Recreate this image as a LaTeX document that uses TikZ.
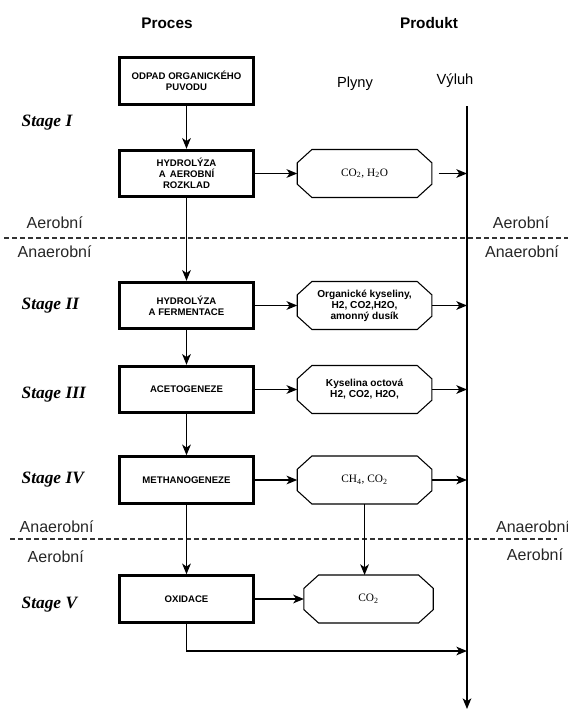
\documentclass[tikz,border=0pt]{standalone}
\usepackage{fontspec}
\setmainfont{Liberation Sans}
\newfontfamily\gasserif{Liberation Serif}
\usetikzlibrary{arrows.meta,positioning}
% octagonal outline round a product node
\newcommand\octa[1]{%
  \draw[line width=0.8pt] ([xshift=11pt]#1.north west) -- ([xshift=-11pt]#1.north east)
    -- ([yshift=-10pt]#1.north east) -- ([yshift=10pt]#1.south east)
    -- ([xshift=-11pt]#1.south east) -- ([xshift=11pt]#1.south west)
    -- ([yshift=10pt]#1.south west) -- ([yshift=-10pt]#1.north west) -- cycle;}

\begin{document}
\begin{tikzpicture}[x=0.75pt,y=-0.75pt,
  proc/.style={draw,line width=2.1pt,minimum width=100pt,minimum height=35pt,inner sep=1pt,align=center,
    font=\fontsize{7.2}{8.2}\selectfont\bfseries},
  gas/.style={minimum width=101pt,minimum height=36pt,inner sep=0pt,outer sep=0pt,align=center,
    font=\fontsize{7.6}{8.3}\selectfont\bfseries},
  gasgas/.style={gas,font=\fontsize{8.5}{9}\selectfont\gasserif},
  stage/.style={anchor=west,font=\fontsize{13}{15}\selectfont\gasserif\bfseries\itshape},
  head/.style={font=\fontsize{11.5}{13}\selectfont\bfseries},
  col/.style={font=\fontsize{11}{13}\selectfont},
  zone/.style={text=black!85,font=\fontsize{12}{14}\selectfont},
  border/.style={black!80,line width=0.9pt,dash pattern=on 3.8pt off 2.2pt},
  arrow/.style={-{Stealth[length=8pt,width=6.5pt,inset=2.2pt]},line width=1pt}]
\useasboundingbox (0,0) rectangle (568,711);
% column heads
\node[head] (proces) at (167,23) {Proces};
\node[head] (produkt) at (429,23) {Produkt};
\node[col] (plyny) at (355,84) {Plyny};
\node[col] (vyluh) at (455,81) {Výluh};
% process chain
\node[proc] (b1) at (186.5,81) {ODPAD ORGANICKÉHO\\PUVODU};
\node[proc] (b2) at (186.5,173.5) {HYDROLÝZA\\A\, AEROBNÍ\\ROZKLAD};
\node[proc] (b3) at (186.5,305.5) {HYDROLÝZA\\A FERMENTACE};
\node[proc] (b4) at (186.5,389.5) {ACETOGENEZE};
\node[proc] (b5) at (186.5,480) {METHANOGENEZE};
\node[proc] (b6) at (186.5,599) {OXIDACE};
% products
\node[gasgas,right=32pt of b2] (o1) {CO\textsubscript{2}, H\textsubscript{2}O};
\node[gas,right=32pt of b3] (o2) {Organické kyseliny,\\H2, CO2,H2O,\\amonný dusík};
\node[gas,right=32pt of b4] (o3) {Kyselina octová\\H2, CO2, H2O,};
\node[gasgas,right=32pt of b5] (o4) {CH\textsubscript{4}, CO\textsubscript{2}};
\node[gasgas,right=37pt of b6,minimum width=97pt] (o5) {CO\textsubscript{2}};
\octa{o1} \octa{o2} \octa{o3} \octa{o4} \octa{o5}
% stages
\node[stage] (s1) at (17,123) {Stage I};
\node[stage] (s2) at (17,306) {Stage II};
\node[stage] (s3) at (17,395) {Stage III};
\node[stage] (s4) at (17,480) {Stage IV};
\node[stage] (s5) at (17,605) {Stage V};
% zone borders
\coordinate (d1l) at (4,238); \coordinate (d1r) at (568,238);
\coordinate (d2l) at (10,539); \coordinate (d2r) at (557,539);
\draw[border] (d1l) -- (d1r);
\draw[border] (d2l) -- (d2r);
\node[zone,anchor=west] (z1) at (22,223) {Aerobní};
\node[zone,anchor=west] (z2) at (13,252) {Anaerobní};
\node[zone] (z3) at (521,223) {Aerobní};
\node[zone] (z4) at (522,252) {Anaerobní};
\node[zone,anchor=west] (z5) at (15,527) {Anaerobní};
\node[zone,anchor=west] (z6) at (23,557) {Aerobní};
\node[zone] (z7) at (533,527) {Anaerobní};
\node[zone] (z8) at (535,555) {Aerobní};
% leachate line
\coordinate (vtop) at (467,106);
\coordinate (vbot) at (467,709);
\coordinate (vend) at (467,651);
\draw[arrow,line width=1.1pt] (vtop) -- (vbot);
% connectors
\draw[arrow] (b1) -- (b2); \draw[arrow] (b2) -- (b3); \draw[arrow] (b3) -- (b4);
\draw[arrow] (b4) -- (b5); \draw[arrow] (b5) -- (b6);
\draw[arrow] (b2) -- (b2 -| o1.west); \draw[arrow] (b3) -- (b3 -| o2.west);
\draw[arrow] (b4) -- (b4 -| o3.west); \draw[arrow] (b5) -- (b5 -| o4.west);
\draw[arrow] (b6) -- (b6 -| o5.west);
\draw[arrow,shorten <=5pt] (o1) -- (o1 -| vtop); \draw[arrow] (o2) -- (o2 -| vtop);
\draw[arrow] (o3) -- (o3 -| vtop); \draw[arrow] (o4) -- (o4 -| vtop);
\draw[arrow] (o4.south) -- (o4.south |- o5.north);
\draw[arrow] (b6.south) |- (vend);
\end{tikzpicture}
\end{document}
